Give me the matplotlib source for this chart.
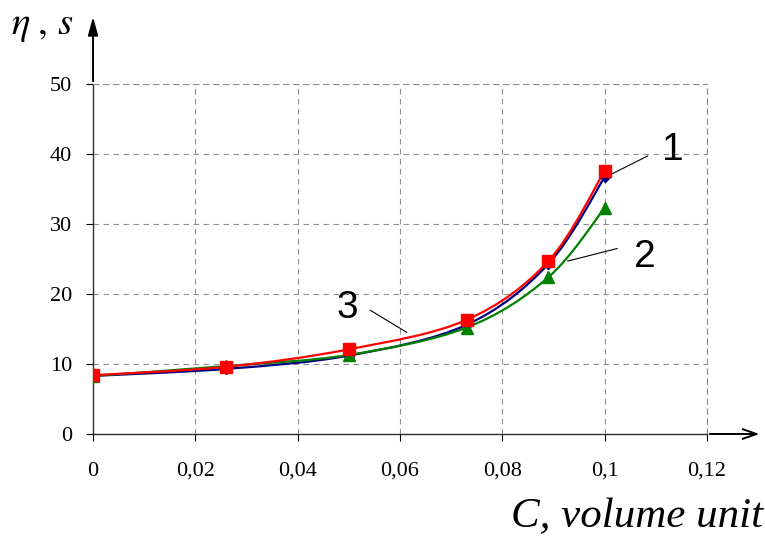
import numpy as np
import matplotlib.pyplot as plt
from matplotlib.path import Path
from matplotlib.patches import PathPatch

# dados
C = [0, 0.026, 0.05, 0.073, 0.089, 0.1]
curva1 = [8.3, 9.3, 11.2, 15.6, 24.3, 36.7]
curva2 = [8.3, 9.7, 11.3, 15.2, 22.4, 32.3]
curva3 = [8.4, 9.6, 12.1, 16.3, 24.7, 37.6]
xticks = [0, 0.02, 0.04, 0.06, 0.08, 0.1, 0.12]
xlabels = ['0', '0,02', '0,04', '0,06', '0,08', '0,1', '0,12']
yticks = [0, 10, 20, 30, 40, 50]

serif = 'Liberation Serif'
sans = 'Liberation Sans'
plt.rcParams['mathtext.fontset'] = 'stix'


# linha suavizada (tipo Excel) com curvas de Bezier
def suave(ax, x, y, cor):
    p = np.column_stack([x, y])
    n = len(p)
    verts = [p[0]]
    codes = [Path.MOVETO]
    for i in range(n - 1):
        p0 = p[max(i - 1, 0)]
        p1 = p[i]
        p2 = p[i + 1]
        p3 = p[min(i + 2, n - 1)]
        c1 = p1 + (p2 - p0) / 6
        c2 = p2 - (p3 - p1) / 6
        verts += [c1, c2, p2]
        codes += [Path.CURVE4] * 3
    patch = PathPatch(Path(verts, codes), fill=False, edgecolor=cor, lw=1.6, zorder=3)
    ax.add_patch(patch)


fig = plt.figure(figsize=(7.65, 5.37), dpi=100)
ax = fig.add_axes([0.1216, 0.1918, 0.8026, 0.6518])

suave(ax, C, curva1, '#000080')
suave(ax, C, curva2, '#008000')
suave(ax, C, curva3, '#ff0000')
ax.plot(C, curva1, 'D', color='#000080', ms=5, zorder=4)
ax.plot(C, curva2, '^', color='#008000', ms=9, zorder=5)
ax.plot(C, curva3, 's', color='#ff0000', ms=8, zorder=6)

ax.set_xlim(0, 0.12)
ax.set_ylim(0, 50)
ax.set_xticks(xticks)
ax.set_xticklabels(xlabels)
ax.set_yticks(yticks)
ax.tick_params(direction='out', length=5, width=0.8, labelsize=16)
ax.tick_params(axis='x', pad=15)
ax.tick_params(axis='y', pad=10)
for lab in ax.get_xticklabels() + ax.get_yticklabels():
    lab.set_family(serif)

ax.grid(True, color='#909090', linestyle=(0, (5, 4)), lw=0.8)
for s in ['top', 'right']:
    ax.spines[s].set_color('#909090')
    ax.spines[s].set_linestyle((0, (5, 4)))
    ax.spines[s].set_linewidth(0.8)
for s in ['left', 'bottom']:
    ax.spines[s].set_color('#303030')
    ax.spines[s].set_linewidth(1.0)

# setas dos eixos
ax.annotate('', xy=(0, 1.2), xytext=(0, 1.0), xycoords='axes fraction',
            arrowprops=dict(arrowstyle='-|>,head_length=1.1,head_width=0.3', color='black', lw=1.4),
            annotation_clip=False)
ax.annotate('', xy=(1.09, 0), xytext=(1.0, 0), xycoords='axes fraction',
            arrowprops=dict(arrowstyle='->,head_length=1.0,head_width=0.35', color='black', lw=1.4),
            annotation_clip=False)

# titulos dos eixos
fig.text(0.014, 0.953, r'$\eta\;,\,s$', fontsize=28, va='center', ha='left')
fig.text(0.997, 0.037, 'C, volume unit', fontsize=31, family=serif, style='italic', va='center', ha='right')

# numeros das curvas
ax.annotate('', xy=(0.0999, 36.6), xytext=(0.1089, 39.9), arrowprops=dict(arrowstyle='-', color='black', lw=0.8))
ax.annotate('', xy=(0.0922, 24.6), xytext=(0.103, 26.6), arrowprops=dict(arrowstyle='-', color='black', lw=0.8))
ax.annotate('', xy=(0.0618, 14.3), xytext=(0.0537, 17.9), arrowprops=dict(arrowstyle='-', color='black', lw=0.8))
ax.text(0.1133, 40.6, '1', fontsize=28, family=sans, ha='center', va='center')
ax.text(0.1079, 25.3, '2', fontsize=28, family=sans, ha='center', va='center')
ax.text(0.0498, 18.0, '3', fontsize=28, family=sans, ha='center', va='center')

plt.savefig('out.png', dpi=100)
